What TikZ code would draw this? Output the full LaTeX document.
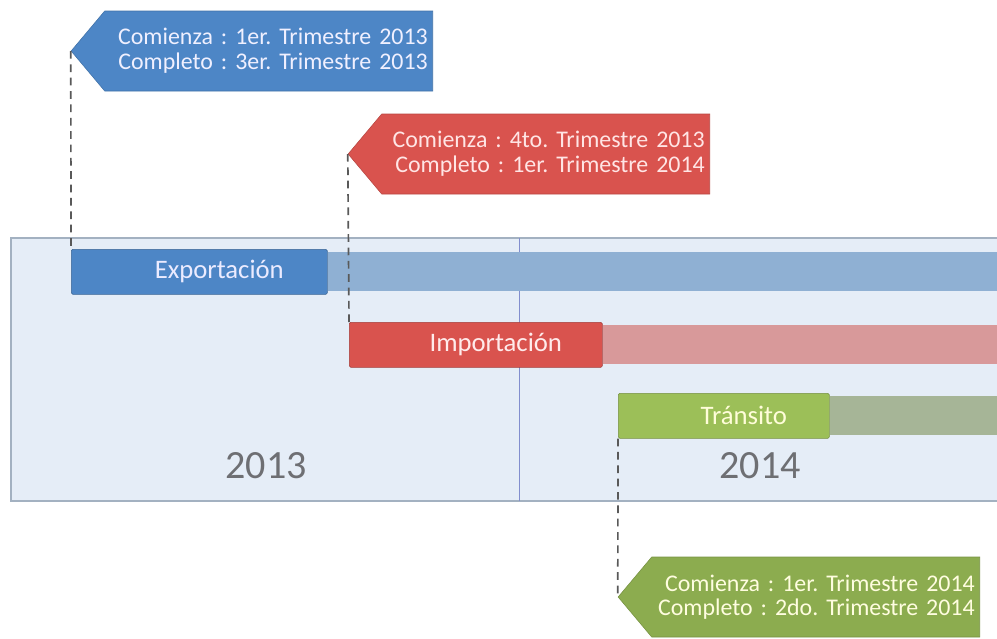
\documentclass[tikz,border=0pt]{standalone}
\usepackage{fontspec}
\setmainfont{Carlito}
\newfontfamily\calloutfont{Carlito}
\usetikzlibrary{positioning, shapes.symbols}

\definecolor{panelfill}{HTML}{E5EDF7}
\definecolor{panelline}{HTML}{A3B1C1}
\definecolor{expblue}{HTML}{4D86C6}
\definecolor{expfade}{HTML}{8FB0D3}
\definecolor{impred}{HTML}{D9534E}
\definecolor{impfade}{HTML}{D8999A}
\definecolor{tragreen}{HTML}{9CBF58}
\definecolor{trafade}{HTML}{A6B597}
\definecolor{yeargray}{HTML}{6E6F73}

\newcommand{\pxu}{0.025cm}

\tikzset{
      task bar/.style={
		fill=#1,
		draw=#1!75!black,
		rounded corners=1pt,
		minimum height={45*\pxu},
		inner sep=0pt,
		anchor=north west,
		font=\fontsize{19}{22}\selectfont,
	  },
      fade bar/.style={
		fill=#1,
		minimum height={39*\pxu},
		minimum width={700*\pxu},
		inner sep=0pt,
	  },
      callout/.style={
		signal, signal to=west, signal pointer angle=100,
		fill=#1,
		draw=#1!85!black,
		minimum height={80*\pxu},
		inner xsep={5*\pxu}, inner ysep=0pt,
		text width={318*\pxu},
		align=right,
		anchor=east,
		font=\calloutfont\frenchspacing\fontsize{17}{17.5}\selectfont,
	  },
      leader/.style={
		draw=black!65,
		line width=1.2pt,
		dash pattern=on 5.5pt off 4pt,
	  },
      year/.style={
		text=yeargray,
		font=\fontsize{28.5}{30}\selectfont,
	  }
  	}

\begin{document}
\begin{tikzpicture}[x=\pxu, y=-\pxu]
    \useasboundingbox (0,0) rectangle (997,638);
    % panel with the two years
    \fill[panelfill] (11,238) rectangle (1005,501);
    \draw[panelline, line width=1.2pt] (1005,238) -- (11,238) -- (11,501) -- (1005,501);
    \draw[panelline!80!blue] (519,238) -- (519,501);
    \node [year] (y2013) at (266,466) {2013};
    \node [year] (y2014) at (760,466) {2014};

    % task bars
    \node [task bar=expblue, minimum width={256*\pxu}, text=blue!8] (exp) at (71,249) {\hspace*{1cm}Exportación};
    \node [fade bar=expfade, right=0pt of exp] (expf) {};
    \node [task bar=impred, minimum width={253*\pxu}, text=red!8] (imp) at (349,322) {\hspace*{1cm}Importación};
    \node [fade bar=impfade, right=0pt of imp] (impf) {};
    \node [task bar=tragreen, minimum width={211*\pxu}, text=yellow!15] (tra) at (618,393) {\hspace*{1cm}Tránsito};
    \node [fade bar=trafade, right=0pt of tra] (traf) {};

    % callouts
    \node [callout=expblue, text=blue!6] (cexp) at (433,51) {Comienza : 1er. Trimestre 2013\\Completo : 3er. Trimestre 2013};
    \node [callout=impred, text=red!10] (cimp) at (710,154) {Comienza : 4to. Trimestre 2013\\Completo : 1er. Trimestre 2014};
    \node [callout=tragreen!90!black, text=yellow!12] (ctra) at (980,597) {Comienza : 1er. Trimestre 2014\\Completo : 2do. Trimestre 2014};

    \draw[leader] (cexp.west) -- (exp.north west);
    \draw[leader] (cimp.west) -- (imp.north west);
    \draw[leader] (tra.south west) -- (ctra.west);
  \end{tikzpicture}
\end{document}
